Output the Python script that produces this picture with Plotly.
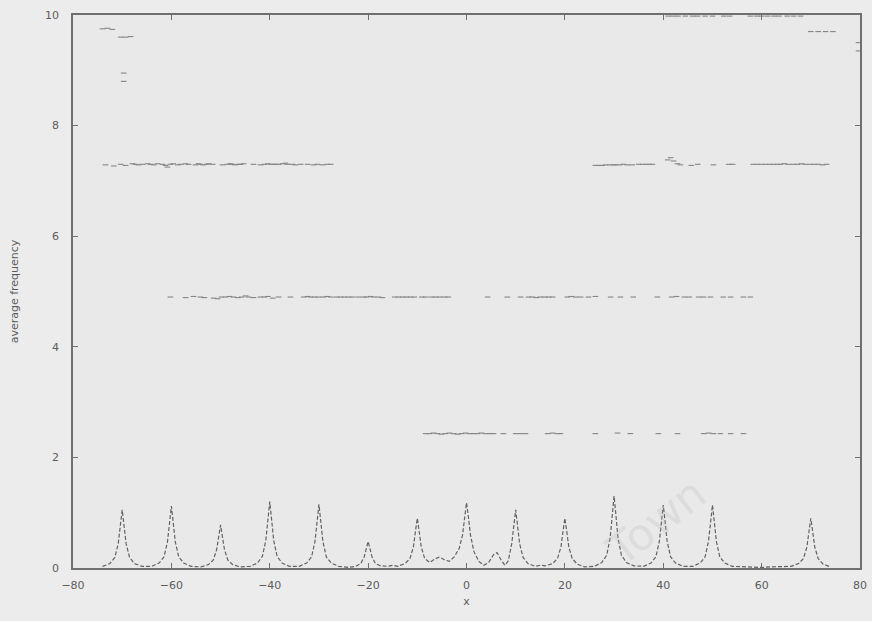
import plotly.graph_objects as go

# Dashed resonance curve (x, average frequency)
curve_x = [
    -74, -72.5, -71.5, -70.8, -70.35, -70, -69.65, -69.2, -68.5, -67.5, -66,
    -64, -62.5, -61.5, -60.8, -60.35, -60, -59.65, -59.2, -58.5, -57.5, -56,
    -54, -52.5, -51.5, -50.8, -50.35, -50, -49.65, -49.2, -48.5, -47.5, -46,
    -44, -42.5, -41.5, -40.8, -40.35, -40, -39.65, -39.2, -38.5, -37.5, -36,
    -34, -32.5, -31.5, -30.8, -30.35, -30, -29.65, -29.2, -28.5, -27.5, -26,
    -24, -22.5, -21.5, -20.8, -20.35, -20, -19.65, -19.2, -18.5, -17.5, -16, -15,
    -14, -12.5, -11.5, -10.8, -10.35, -10, -9.65, -9.2, -8.5, -7.5, -6.5,
    -5.5, -4.5, -3.5,
    -2.5, -1.5, -0.8, -0.35, 0, 0.35, 0.8, 1.5, 2.5, 3.5,
    4.5, 5.5, 6.2, 7, 7.8,
    8.5, 9.2, 9.65, 10, 10.35, 10.8, 11.5, 12.5, 14, 15, 16,
    17.5, 18.5, 19.2, 19.65, 20, 20.35, 20.8, 21.5, 22.5, 24,
    26, 27.5, 28.5, 29.2, 29.65, 30, 30.35, 30.8, 31.5, 32.5, 34,
    36, 37.5, 38.5, 39.2, 39.65, 40, 40.35, 40.8, 41.5, 42.5, 44,
    46, 47.5, 48.5, 49.2, 49.65, 50, 50.35, 50.8, 51.5, 52.5, 54,
    56, 58, 60, 62, 64,
    66, 67.5, 68.5, 69.2, 69.65, 70, 70.35, 70.8, 71.5, 72.5, 74,
]
curve_y = [
    0.03, 0.08, 0.19, 0.44, 0.79, 1.05, 0.79, 0.44, 0.19, 0.08, 0.03,
    0.03, 0.09, 0.20, 0.47, 0.84, 1.12, 0.84, 0.47, 0.20, 0.09, 0.03,
    0.02, 0.06, 0.14, 0.33, 0.58, 0.78, 0.58, 0.33, 0.14, 0.06, 0.02,
    0.03, 0.09, 0.21, 0.50, 0.90, 1.20, 0.90, 0.50, 0.21, 0.09, 0.03,
    0.03, 0.09, 0.20, 0.48, 0.86, 1.15, 0.86, 0.48, 0.20, 0.09, 0.03,
    0.01, 0.03, 0.08, 0.20, 0.36, 0.48, 0.36, 0.20, 0.08, 0.04, 0.03, 0.05,
    0.03, 0.08, 0.17, 0.38, 0.68, 0.90, 0.68, 0.38, 0.17, 0.10, 0.16,
    0.20, 0.15, 0.12,
    0.20, 0.35, 0.60, 0.95, 1.18, 0.95, 0.60, 0.30, 0.12, 0.05,
    0.10, 0.24, 0.28, 0.15, 0.05,
    0.13, 0.44, 0.79, 1.05, 0.79, 0.44, 0.19, 0.08, 0.03, 0.05, 0.04,
    0.08, 0.17, 0.38, 0.68, 0.90, 0.68, 0.38, 0.17, 0.07, 0.02,
    0.03, 0.10, 0.23, 0.54, 0.98, 1.30, 0.98, 0.54, 0.23, 0.10, 0.04,
    0.03, 0.09, 0.20, 0.48, 0.86, 1.14, 0.86, 0.48, 0.20, 0.09, 0.03,
    0.03, 0.09, 0.20, 0.48, 0.86, 1.14, 0.86, 0.48, 0.20, 0.09, 0.03,
    0.02, 0.01, 0.01, 0.02, 0.03,
    0.03, 0.08, 0.17, 0.38, 0.68, 0.90, 0.68, 0.38, 0.17, 0.07, 0.02,
]

# Plateau points near 7.3
band73_x = [
    -73.4, -71.7, -70.3, -69.3, -67.9, -67.3, -66.7, -65.9, -64.8, -64.2,
    -63.6, -62.8, -61.8, -61.2, -60.8, -60.2, -59.6, -58.7, -58.1, -57.1,
    -56.5, -55.1, -54.5, -54.1, -53.5, -52.8, -52.4, -51.6, -49.6, -48.6,
    -48.0, -47.6, -47.0, -46.3, -45.9, -45.3, -43.3, -41.9, -41.1, -40.4,
    -39.8, -39.2, -38.8, -38.2, -37.4, -36.8, -36.4, -35.4, -34.8, -33.7,
    -32.3, -31.1, -30.3, -29.3, -28.3, -27.6,
    26.2, 26.8, 27.6, 28.3, 29.1, 29.9, 30.3, 31.1, 31.9, 32.7,
    33.7, 35.0, 35.8, 36.6, 37.2, 37.8, 40.9, 41.5, 42.1, 42.9,
    43.5, 45.7, 47.0, 50.2, 53.3, 54.1, 58.3, 59.1, 60.0, 60.8,
    61.6, 62.4, 63.2, 63.8, 64.6, 65.4, 66.5, 67.3, 68.1, 68.9,
    69.9, 70.7, 71.5, 72.4, 73.2,
]
band73_y = [
    7.29, 7.27, 7.30, 7.28, 7.31, 7.30, 7.29, 7.30, 7.31, 7.30,
    7.29, 7.31, 7.30, 7.28, 7.25, 7.30, 7.31, 7.29, 7.30, 7.31,
    7.30, 7.29, 7.31, 7.30, 7.29, 7.30, 7.31, 7.30, 7.29, 7.30,
    7.31, 7.30, 7.29, 7.30, 7.30, 7.31, 7.30, 7.29, 7.30, 7.31,
    7.30, 7.30, 7.30, 7.30, 7.31, 7.32, 7.30, 7.30, 7.29, 7.30,
    7.30, 7.29, 7.30, 7.29, 7.30, 7.30,
    7.28, 7.28, 7.28, 7.29, 7.29, 7.29, 7.29, 7.29, 7.30, 7.29,
    7.29, 7.30, 7.30, 7.30, 7.30, 7.30, 7.38, 7.42, 7.36, 7.31,
    7.29, 7.28, 7.30, 7.29, 7.30, 7.30, 7.30, 7.30, 7.30, 7.30,
    7.30, 7.30, 7.30, 7.30, 7.31, 7.30, 7.30, 7.30, 7.31, 7.30,
    7.30, 7.30, 7.30, 7.29, 7.30,
]

# Plateau points near 4.9
band49_x = [
    -60.2, -57.1, -55.5, -54.1, -53.3, -51.4, -50.6, -49.8, -49.0, -48.2,
    -47.4, -46.5, -45.7, -44.9, -44.3, -43.3, -41.9, -41.1, -40.4, -39.4,
    -38.2, -35.8, -33.1, -32.3, -31.7, -30.9, -30.1, -29.1, -28.3, -27.6,
    -26.4, -25.6, -24.8, -24.0, -23.2, -22.0, -20.9, -20.3, -19.5, -18.9,
    -17.9, -17.1, -14.6, -13.8, -13.0, -12.2, -11.4, -10.6, -9.1, -8.3,
    -7.1, -6.3, -5.5, -4.5, -3.7,
    4.3, 8.3, 11.0, 12.6, 13.4, 14.2, 15.0, 15.9, 16.7, 17.5,
    20.5, 21.3, 22.2, 23.2, 24.8, 26.2, 29.3, 31.3, 33.9, 38.8,
    41.7, 42.7, 44.3, 45.3, 47.2, 48.2, 49.6, 52.2, 53.7, 56.3, 57.7,
]
band49_y = [
    4.90, 4.89, 4.91, 4.90, 4.89, 4.88, 4.87, 4.90, 4.90, 4.91,
    4.90, 4.89, 4.90, 4.92, 4.90, 4.89, 4.90, 4.90, 4.91, 4.88,
    4.90, 4.90, 4.90, 4.91, 4.90, 4.90, 4.90, 4.90, 4.91, 4.90,
    4.90, 4.90, 4.90, 4.90, 4.90, 4.90, 4.90, 4.90, 4.91, 4.90,
    4.90, 4.89, 4.90, 4.90, 4.90, 4.90, 4.90, 4.90, 4.90, 4.90,
    4.90, 4.90, 4.90, 4.90, 4.90,
    4.90, 4.90, 4.90, 4.90, 4.90, 4.89, 4.90, 4.90, 4.90, 4.90,
    4.90, 4.91, 4.90, 4.90, 4.90, 4.91, 4.90, 4.90, 4.90, 4.90,
    4.90, 4.91, 4.90, 4.90, 4.90, 4.90, 4.90, 4.90, 4.90, 4.90, 4.90,
]

# Plateau points near 2.4
band24_x = [
    -8.3, -7.5, -6.7, -5.9, -5.1, -4.3, -3.5, -2.6, -1.8, -1.0,
    -0.2, 0.6, 1.4, 2.2, 3.0, 3.9, 4.7, 5.5, 7.5, 10.0,
    11.0, 12.0, 16.5, 17.5, 18.5, 19.1, 26.2, 30.7, 33.3, 39.0,
    42.9, 48.2, 49.2, 50.2, 51.6, 53.7, 56.3,
]
band24_y = [
    2.43, 2.43, 2.44, 2.43, 2.42, 2.43, 2.44, 2.43, 2.42, 2.43,
    2.44, 2.43, 2.43, 2.43, 2.44, 2.43, 2.43, 2.43, 2.43, 2.43,
    2.43, 2.43, 2.43, 2.44, 2.43, 2.43, 2.43, 2.44, 2.43, 2.43,
    2.43, 2.43, 2.44, 2.43, 2.43, 2.43, 2.43,
]

# Points near the top of the range
top_x = [
    -74.0, -73.0, -72.0, -70.3, -69.3, -68.3, -69.7, -69.7,
    41.0, 42.0, 43.0, 44.5, 46.0, 47.0, 48.5, 50.0, 52.3, 53.5,
    57.7, 59.0, 60.0, 61.2, 62.5, 63.5, 65.2, 66.5, 67.9,
    70.0, 71.5, 73.0, 74.5, 79.7, 79.7,
]
top_y = [
    9.75, 9.76, 9.74, 9.60, 9.60, 9.61, 8.95, 8.80,
    9.98, 9.98, 9.98, 9.98, 9.98, 9.98, 9.98, 9.98, 9.98, 9.98,
    9.98, 9.98, 9.98, 9.98, 9.98, 9.98, 9.98, 9.98, 9.98,
    9.70, 9.70, 9.70, 9.70, 9.50, 9.35,
]

x_ticks = [-80, -60, -40, -20, 0, 20, 40, 60, 80]
y_ticks = [0, 2, 4, 6, 8, 10]

ink = "#5c5c5c"
font_main = "DejaVu Sans"
fig = go.Figure()

fig.add_trace(go.Scatter(
    x=curve_x, y=curve_y, mode="lines",
    line=dict(color="#626262", width=1.2, dash="4px,2px"),
    hoverinfo="skip", showlegend=False,
))

point_style = dict(symbol="line-ew", size=4, line=dict(color="#858585", width=1.1))
for xs, ys in [(band73_x, band73_y), (band49_x, band49_y),
               (band24_x, band24_y), (top_x, top_y)]:
    fig.add_trace(go.Scatter(
        x=xs, y=ys, mode="markers", marker=point_style,
        showlegend=False, cliponaxis=False,
    ))

axis_common = dict(
    showgrid=False, zeroline=False, showline=True, linecolor="#707070",
    linewidth=1.5, mirror="ticks", ticks="inside", ticklen=5,
    tickcolor="#707070", tickwidth=1, automargin=False,
    tickfont=dict(family=font_main, size=11, color=ink),
)

fig.update_layout(
    width=872, height=621,
    margin=dict(l=73, r=12, t=15, b=53),
    paper_bgcolor="#ececec", plot_bgcolor="#e9e9e9",
    xaxis=dict(range=[-80, 80], tickvals=x_ticks, ticklabelstandoff=6,
               title=dict(text="x", font=dict(family=font_main, size=11, color=ink),
                          standoff=6),
               **axis_common),
    yaxis=dict(range=[0, 10], tickvals=y_ticks, ticklabelstandoff=10,
               title=dict(text="average frequency",
                          font=dict(family=font_main, size=11, color=ink),
                          standoff=24),
               **axis_common),
    annotations=[dict(
        text="Town", x=38.5, y=0.85, xref="x", yref="y", showarrow=False,
        textangle=-38, font=dict(family=font_main, size=44, color="rgba(190,190,190,0.28)"),
    )],
)

fig.write_html("out.html")
